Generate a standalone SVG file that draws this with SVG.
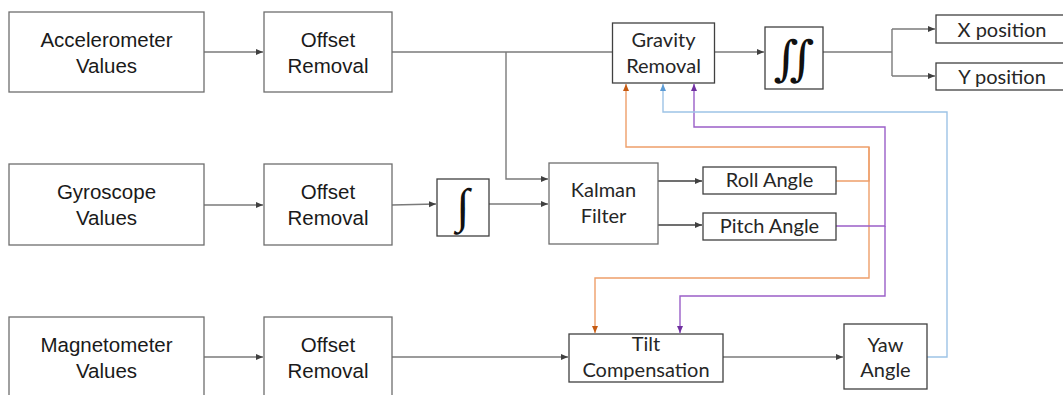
<svg xmlns="http://www.w3.org/2000/svg" width="1063" height="395" viewBox="0 0 1063 395">
<style>
.bx{fill:#fff;stroke:#6e6e6e;stroke-width:1.3}
.bd{fill:#fff;stroke:#404040;stroke-width:1.3}
.ta{font-family:"Liberation Sans",Arial,sans-serif;font-size:20.5px;fill:#1a1a1a;text-anchor:middle}
.tc{font-family:Lato,"Open Sans",sans-serif;font-size:20px;fill:#262626;text-anchor:middle}
.ln{fill:none;stroke:#7a7a7a;stroke-width:1.4}
.ldk{fill:none;stroke:#404040;stroke-width:1.3}
.lo{fill:none;stroke:#EE9F6A;stroke-width:1.4}
.lp{fill:none;stroke:#9A5FC8;stroke-width:1.4}
.lb{fill:none;stroke:#9DC3E6;stroke-width:1.4}
.int{font-family:"Liberation Serif","DejaVu Serif",serif;fill:#111;text-anchor:middle}
</style>
<defs>
<marker id="ag" markerWidth="8" markerHeight="8" refX="7" refY="4" orient="auto" markerUnits="userSpaceOnUse"><path d="M0,1 L7,4 L0,7 Z" fill="#404040"/></marker>
<marker id="ao" markerWidth="8" markerHeight="8" refX="7" refY="4" orient="auto" markerUnits="userSpaceOnUse"><path d="M0,1 L7,4 L0,7 Z" fill="#C55A11"/></marker>
<marker id="ap" markerWidth="8" markerHeight="8" refX="7" refY="4" orient="auto" markerUnits="userSpaceOnUse"><path d="M0,1 L7,4 L0,7 Z" fill="#7030A0"/></marker>
<marker id="ab" markerWidth="8" markerHeight="8" refX="7" refY="4" orient="auto" markerUnits="userSpaceOnUse"><path d="M0,1 L7,4 L0,7 Z" fill="#5B9BD5"/></marker>
</defs>
<rect width="1063" height="395" fill="#fff"/>
<g id="connectors">
<path class="ln" d="M204,52 H263" marker-end="url(#ag)"/>
<path class="ln" d="M204,205 H263" marker-end="url(#ag)"/>
<path class="ln" d="M204,357 H263" marker-end="url(#ag)"/>
<path class="ln" d="M392,52 H612"/>
<path class="ln" d="M506,52 V179 H548" marker-end="url(#ag)"/>
<path class="ln" d="M392,205 L436,204" marker-end="url(#ag)"/>
<path class="ln" d="M489,204 H548" marker-end="url(#ag)"/>
<path class="ldk" d="M658,181 H702" marker-end="url(#ag)"/>
<path class="ldk" d="M658,225 H702" marker-end="url(#ag)"/>
<path class="ln" d="M715,52 H764" marker-end="url(#ag)"/>
<path class="ln" d="M823,52 H892"/>
<path class="ln" d="M892,29 V76"/>
<path class="ln" d="M892,29 H935" marker-end="url(#ag)"/>
<path class="ln" d="M892,76 H935" marker-end="url(#ag)"/>
<path class="ln" d="M392,357 H568" marker-end="url(#ag)"/>
<path class="ln" d="M723,357 H843" marker-end="url(#ag)"/>
<path class="lo" d="M836,181 H869 V147 H626 V84" marker-end="url(#ao)"/>
<path class="lo" d="M869,147 V278 H595 V333" marker-end="url(#ao)"/>
<path class="lp" d="M836,226 H885 V127 H694 V84" marker-end="url(#ap)"/>
<path class="lp" d="M885,226 V296 H680 V333" marker-end="url(#ap)"/>
<path class="lb" d="M927,357 H947 V112 H663 V84" marker-end="url(#ab)"/>
</g>
<g id="accel"><rect class="bx" x="9" y="12" width="195" height="80"/><text class="ta" x="106.5" y="47">Accelerometer</text><text class="ta" x="106.5" y="73">Values</text></g>
<g id="offset1"><rect class="bx" x="264" y="12" width="128" height="80"/><text class="ta" x="328" y="47">Offset</text><text class="ta" x="328" y="73">Removal</text></g>
<g id="gyro"><rect class="bx" x="9" y="164" width="195" height="81"/><text class="ta" x="106.5" y="199">Gyroscope</text><text class="ta" x="106.5" y="225">Values</text></g>
<g id="offset2"><rect class="bx" x="264" y="164" width="128" height="81"/><text class="ta" x="328" y="199">Offset</text><text class="ta" x="328" y="225">Removal</text></g>
<g id="mag"><rect class="bx" x="9" y="317" width="195" height="90"/><text class="ta" x="106.5" y="352">Magnetometer</text><text class="ta" x="106.5" y="378">Values</text></g>
<g id="offset3"><rect class="bx" x="264" y="317" width="128" height="90"/><text class="ta" x="328" y="352">Offset</text><text class="ta" x="328" y="378">Removal</text></g>
<g id="integral"><rect class="bd" x="437" y="179" width="52" height="57"/><text class="int" x="463" y="222" font-size="48">∫</text></g>
<g id="kalman"><rect class="bx" x="549" y="163" width="109" height="81"/><text class="tc" x="603.5" y="197">Kalman</text><text class="tc" x="603.5" y="223">Filter</text></g>
<g id="gravity"><rect class="bd" x="612.5" y="23" width="102" height="60"/><text class="tc" x="663.5" y="47">Gravity</text><text class="tc" x="663.5" y="73">Removal</text></g>
<g id="dblintegral"><rect class="bd" x="765" y="27" width="58" height="62"/><text class="int" x="794" y="75" font-size="48">∬</text></g>
<g id="xpos"><rect class="bd" x="936" y="15" width="140" height="28"/><text class="tc" x="1002" y="37">X position</text></g>
<g id="ypos"><rect class="bd" x="936" y="63" width="140" height="27"/><text class="tc" x="1002" y="84">Y position</text></g>
<g id="roll"><rect class="bd" x="703" y="167" width="133" height="27"/><text class="tc" x="769.5" y="187">Roll Angle</text></g>
<g id="pitch"><rect class="bd" x="703" y="213" width="133" height="27"/><text class="tc" x="769.5" y="233">Pitch Angle</text></g>
<g id="tilt"><rect class="bd" x="569" y="334" width="154" height="48"/><text class="tc" x="646" y="351">Tilt</text><text class="tc" x="646" y="377">Compensation</text></g>
<g id="yaw"><rect class="bd" x="844" y="324" width="83" height="65"/><text class="tc" x="885.5" y="352">Yaw</text><text class="tc" x="885.5" y="377">Angle</text></g>
</svg>
